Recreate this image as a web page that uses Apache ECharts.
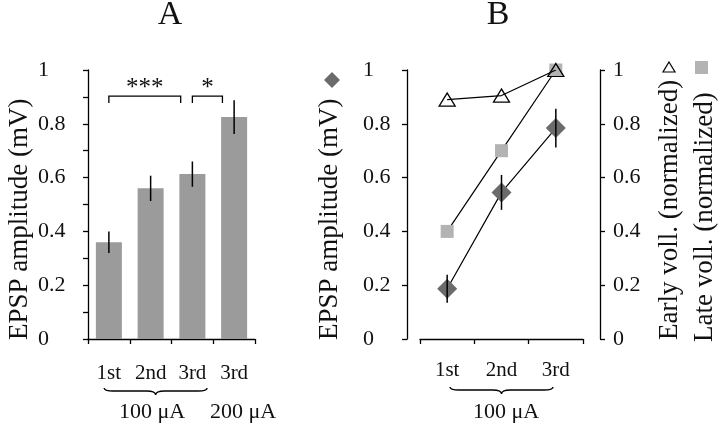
<!DOCTYPE html>
<html><head><meta charset="utf-8">
<script src="https://cdn.jsdelivr.net/npm/echarts@6/dist/echarts.min.js"></script>
<style>html,body{margin:0;padding:0;background:#fff}#c{width:720px;height:428px}</style>
</head><body><div id="c"></div>
<script>
const FONT = '"Liberation Serif", "Times New Roman", serif';

// ---- Panel A data ----
const catsA = ['1st', '2nd', '3rd', '3rd'];
const epspA = [0.36, 0.56, 0.613, 0.825];
const errA = [0.04, 0.047, 0.047, 0.063];
const sigPairsA = [[0, 2], [2, 3]];
const sigLabelsA = ['***', '*'];
const groupSpansA = [[0, 2], [3, 3]];
const groupLabelsA = ['100 μA', '200 μA'];

// ---- Panel B data ----
const catsB = ['1st', '2nd', '3rd'];
const epspB = [0.187, 0.545, 0.784];
const errB = [0.052, 0.065, 0.072];
const lateVollB = [0.40, 0.70, 1.0];
const earlyVollB = [0.89, 0.905, 1.0];
const groupSpansB = [[0, 2]];
const groupLabelsB = ['100 μA'];

const yMin = 0, yMax = 1, yStep = 0.2;

const BLACK = '#111';
const lineSt = { color: '#000', width: 1.3 };
const tickStyle = { show: true, inside: false, length: 5, lineStyle: lineSt };

function yLabel(margin) {
  return {
    margin: margin,
    formatter: v => '{a|' + (+v.toFixed(2)) + '}',
    rich: { a: { width: 30, align: 'left', fontSize: 22, fontFamily: FONT, color: BLACK } }
  };
}
function errRender(params, api) {
  const i = api.value(0), v = api.value(1), e = api.value(2);
  const p1 = api.coord([i, v + e]), p2 = api.coord([i, v - e]);
  return { type: 'line', shape: { x1: p1[0], y1: p1[1], x2: p2[0], y2: p2[1] },
           style: { stroke: '#000', lineWidth: 1.5 } };
}
function sigRender(params, api) {
  const a = api.value(0), b = api.value(1) - 0.28;
  const top = 0.903, leg = 0.877, txt = 0.933;
  const p1 = api.coord([a, leg]), p2 = api.coord([a, top]), p3 = api.coord([b, top]), p4 = api.coord([b, leg]);
  const t = api.coord([(a + b) / 2, txt]);
  return { type: 'group', children: [
    { type: 'polyline', shape: { points: [p1, p2, p3, p4] }, style: { stroke: '#000', lineWidth: 1.3, fill: null } },
    { type: 'text', x: t[0], y: t[1], style: { text: sigLabelsA[params.dataIndex], font: '25px ' + FONT, fill: BLACK, align: 'center', verticalAlign: 'middle' } }
  ] };
}
function groupRender(labels, labelDx, braceDx, braceOff, labelOff) {
  return function (params, api) {
    const a = api.value(0), b = api.value(1), k = params.dataIndex;
    const c = api.coord([(a + b) / 2, 0]);
    const children = [];
    if (b > a) {
      const cx = c[0] + braceDx, hw = 51.5, y = c[1] + braceOff;
      const L = cx - hw, R = cx + hw;
      const d = 'M' + L + ',' + (y - 3) + ' Q' + L + ',' + y + ' ' + (L + 9) + ',' + y +
        ' L' + (cx - 9) + ',' + y + ' Q' + cx + ',' + y + ' ' + cx + ',' + (y + 4) +
        ' Q' + cx + ',' + y + ' ' + (cx + 9) + ',' + y + ' L' + (R - 9) + ',' + y +
        ' Q' + R + ',' + y + ' ' + R + ',' + (y - 3);
      children.push({ type: 'path', shape: { pathData: d }, style: { stroke: '#000', lineWidth: 1.4, fill: null } });
    }
    children.push({ type: 'text', x: c[0] + labelDx[k], y: c[1] + labelOff,
      style: { text: labels[k], font: '22px ' + FONT, fill: BLACK, align: 'center', verticalAlign: 'middle' } });
    return { type: 'group', children: children };
  };
}

const chart = echarts.init(document.getElementById('c'));
chart.setOption({
  animation: false,
  backgroundColor: '#fff',
  textStyle: { fontFamily: FONT },
  grid: [
    { left: 88, top: 70, width: 167, height: 269 },
    { left: 420, top: 70, width: 163, height: 269 }
  ],
  xAxis: [
    { type: 'category', gridIndex: 0, data: catsA, axisLine: { onZero: false, lineStyle: lineSt }, axisTick: tickStyle,
      axisLabel: { margin: 24, fontSize: 21, fontFamily: FONT, color: BLACK }, splitLine: { show: false } },
    { type: 'category', gridIndex: 1, data: catsB, axisLine: { onZero: false, lineStyle: lineSt }, axisTick: tickStyle,
      axisLabel: { margin: 21, fontSize: 21, fontFamily: FONT, color: BLACK }, splitLine: { show: false } },
    { type: 'value', gridIndex: 0, min: -0.5, max: catsA.length - 0.5, show: false, axisLine: { onZero: false } },
    { type: 'value', gridIndex: 1, min: -0.5, max: catsB.length - 0.5, show: false, axisLine: { onZero: false } }
  ],
  yAxis: [
    { type: 'value', gridIndex: 0, min: yMin, max: yMax, interval: yStep, axisLine: { show: true, onZero: false, lineStyle: lineSt },
      axisTick: tickStyle, minorTick: { show: true, splitNumber: 2, length: 5, lineStyle: lineSt },
      splitLine: { show: false }, minorSplitLine: { show: false }, axisLabel: yLabel(20) },
    { type: 'value', gridIndex: 1, position: 'left', offset: 13, min: yMin, max: yMax, interval: yStep,
      axisLine: { show: true, onZero: false, lineStyle: lineSt }, axisTick: tickStyle,
      splitLine: { show: false }, axisLabel: yLabel(14) },
    { type: 'value', gridIndex: 1, position: 'right', offset: 17, min: yMin, max: yMax, interval: yStep,
      axisLine: { show: true, onZero: false, lineStyle: lineSt }, axisTick: tickStyle,
      splitLine: { show: false }, axisLabel: yLabel(13) }
  ],
  series: [
    { type: 'bar', xAxisIndex: 0, yAxisIndex: 0, data: epspA, barWidth: 26, itemStyle: { color: '#9b9b9b' }, z: 2 },
    { type: 'custom', xAxisIndex: 0, yAxisIndex: 0, z: 3, data: epspA.map((v, i) => [i, v, errA[i]]), renderItem: errRender },
    { type: 'custom', xAxisIndex: 2, yAxisIndex: 0, z: 3, data: sigPairsA, renderItem: sigRender },
    { type: 'custom', xAxisIndex: 2, yAxisIndex: 0, z: 3, data: groupSpansA,
      renderItem: groupRender(groupLabelsA, [1.5, 9], 5, 52, 73) },
    { type: 'line', name: 'Late voll.', xAxisIndex: 1, yAxisIndex: 2, data: lateVollB, symbol: 'rect', symbolSize: 13,
      itemStyle: { color: '#b3b3b3' }, lineStyle: { color: '#000', width: 1.2 }, z: 2 },
    { type: 'line', name: 'Early voll.', xAxisIndex: 1, yAxisIndex: 2, data: earlyVollB, symbol: 'triangle', symbolSize: [16, 13],
      itemStyle: { color: 'rgba(255,255,255,0)', borderColor: '#000', borderWidth: 1.3 }, lineStyle: { color: '#000', width: 1.2 }, z: 3 },
    { type: 'line', name: 'EPSP', xAxisIndex: 1, yAxisIndex: 1, data: epspB, symbol: 'diamond', symbolSize: 20,
      itemStyle: { color: '#6b6b6b' }, lineStyle: { color: '#000', width: 1.2 }, z: 2 },
    { type: 'custom', xAxisIndex: 1, yAxisIndex: 1, z: 4, data: epspB.map((v, i) => [i, v, errB[i]]), renderItem: errRender },
    { type: 'custom', xAxisIndex: 3, yAxisIndex: 1, z: 3, data: groupSpansB,
      renderItem: groupRender(groupLabelsB, [4.5], 0, 51, 73) }
  ],
  graphic: [
    { type: 'text', x: 170, y: 15, style: { text: 'A', font: '34px ' + FONT, fill: BLACK, align: 'center', verticalAlign: 'middle' } },
    { type: 'text', x: 498, y: 15, style: { text: 'B', font: '34px ' + FONT, fill: BLACK, align: 'center', verticalAlign: 'middle' } },
    { type: 'text', x: 20, y: 340, rotation: Math.PI / 2, style: { text: 'EPSP amplitude (mV)', font: '27px ' + FONT, fill: BLACK, align: 'left', verticalAlign: 'middle' } },
    { type: 'text', x: 330, y: 340, rotation: Math.PI / 2, style: { text: 'EPSP amplitude (mV)', font: '27px ' + FONT, fill: BLACK, align: 'left', verticalAlign: 'middle' } },
    { type: 'text', x: 670, y: 340, rotation: Math.PI / 2, style: { text: 'Early voll. (normalized)', font: '27px ' + FONT, fill: BLACK, align: 'left', verticalAlign: 'middle' } },
    { type: 'text', x: 705, y: 342, rotation: Math.PI / 2, style: { text: 'Late voll. (normalized)', font: '27px ' + FONT, fill: BLACK, align: 'left', verticalAlign: 'middle' } },
    { type: 'polygon', shape: { points: [[332, 72], [340, 80], [332, 88], [324, 80]] }, style: { fill: '#6b6b6b' } },
    { type: 'polygon', shape: { points: [[669, 62], [675, 72], [663, 72]] }, style: { fill: 'none', stroke: '#000', lineWidth: 1.2 } },
    { type: 'rect', shape: { x: 695, y: 61, width: 13, height: 13 }, style: { fill: '#b3b3b3' } }
  ]
});
</script>
</body></html>
